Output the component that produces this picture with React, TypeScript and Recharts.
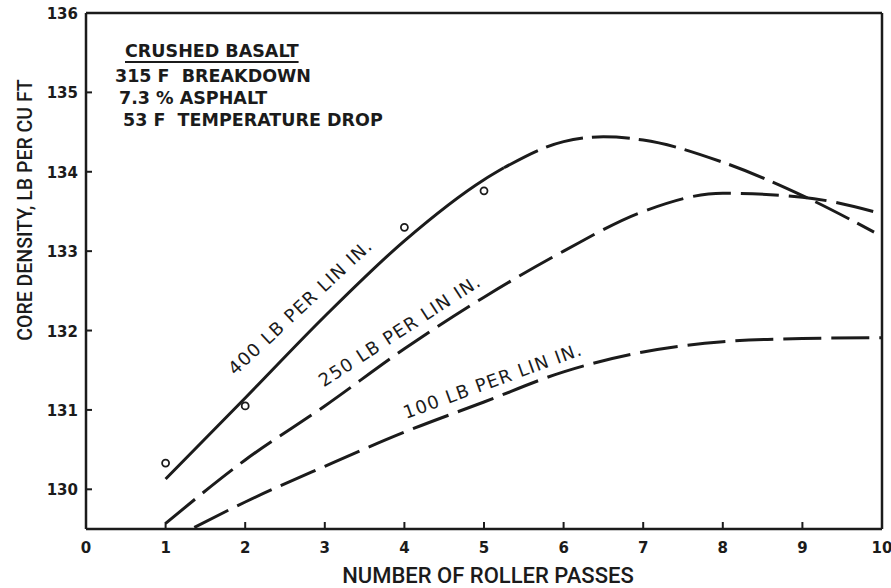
import React from "react";
import { ComposedChart, Line, Scatter, XAxis, YAxis, ReferenceDot, ReferenceLine } from "recharts";

// axis ticks
const xTicks = [0, 1, 2, 3, 4, 5, 6, 7, 8, 9, 10];
const yTicks = [130, 131, 132, 133, 134, 135, 136];

// 400 lb per lin in. (solid part, then dashed extrapolation)
const passes400Solid = [1, 2, 3, 4, 5, 5.25];
const density400Solid = [130.13, 131.15, 132.18, 133.13, 133.9, 134.05];
const passes400Dashed = [5.25, 6, 6.5, 7, 8, 9, 9.9];
const density400Dashed = [134.05, 134.38, 134.44, 134.4, 134.12, 133.7, 133.24];

// 250 lb per lin in.
const passes250 = [1, 2, 3, 4, 5, 6, 7, 8, 9, 10];
const density250 = [129.57, 130.37, 131.05, 131.77, 132.42, 133.0, 133.5, 133.73, 133.68, 133.47];

// 100 lb per lin in.
const passes100 = [1.36, 2, 3, 4, 5, 6, 7, 8, 9, 10];
const density100 = [129.52, 129.84, 130.29, 130.72, 131.1, 131.48, 131.73, 131.86, 131.9, 131.91];

// measured cores
const passesObs = [1, 2, 4, 5];
const densityObs = [130.33, 131.05, 133.3, 133.76];

// curve labels: text, anchor position, angle
const curveLabels = ["400 LB PER LIN IN.", "250 LB PER LIN IN.", "100 LB PER LIN IN."];
const curveLabelX = [2.69, 3.94, 5.11];
const curveLabelY = [132.3, 132.0, 131.37];
const curveLabelAngle = [-43, -33, -20];

const infoTitle = "CRUSHED BASALT";
const infoLines = ["315 F  BREAKDOWN", "7.3 % ASPHALT", "53 F  TEMPERATURE DROP"];

const pts = (xs: number[], ys: number[]) => xs.map((x, i) => ({ x, y: ys[i] }));

const INK = "#1b1b1b";
const tickFont = "'DejaVu Sans', sans-serif";
const titleFont = "Roboto, 'Liberation Sans', sans-serif";

const XTick = (props: any) => {
  const { x, y, payload } = props;
  const v = payload.value;
  return (
    <g>
      {v !== 0 && v !== 10 && <line x1={x} y1={y} x2={x} y2={y - 7} stroke={INK} strokeWidth={2} />}
      <text x={x} y={y + 24} textAnchor="middle" fontFamily={tickFont} fontWeight="bold" fontSize={15} fill={INK}>
        {v}
      </text>
    </g>
  );
};

const YTick = (props: any) => {
  const { x, y, payload } = props;
  const v = payload.value;
  return (
    <g>
      {v !== 136 && <line x1={x} y1={y} x2={x + 6} y2={y} stroke={INK} strokeWidth={2} />}
      <text x={x - 8} y={y + 6} textAnchor="end" fontFamily={tickFont} fontWeight="bold" fontSize={15} fill={INK}>
        {v}
      </text>
    </g>
  );
};

const rotatedLabel = (text: string, angle: number) => (props: any) => {
  const vb = props.viewBox || {};
  const cx = vb.x + (vb.width || 0) / 2;
  const cy = vb.y + (vb.height || 0) / 2;
  return (
    <text
      x={cx}
      y={cy}
      dy="0.36em"
      textAnchor="middle"
      transform={`rotate(${angle} ${cx} ${cy})`}
      fontFamily={tickFont}
      fontSize={18}
      letterSpacing={1.2}
      fill={INK}
    >
      {text}
    </text>
  );
};

const Circle = (props: any) => (
  <circle cx={props.cx} cy={props.cy} r={3.5} fill="#fff" stroke={INK} strokeWidth={1.8} />
);

export default function App() {
  return (
    <div style={{ position: "absolute", left: 0, top: 0, width: 891, height: 588, background: "#fff" }}>
      <ComposedChart width={891} height={588} margin={{ top: 13, right: 9, bottom: 0, left: 0 }}>
        <XAxis
          dataKey="x"
          type="number"
          domain={[0, 10]}
          ticks={xTicks}
          interval={0}
          height={59}
          tickSize={0}
          tickMargin={0}
          tickLine={false}
          axisLine={{ stroke: INK, strokeWidth: 2.5 }}
          tick={(p: any) => <XTick {...p} />}
          label={{
            content: (p: any) => {
              const vb = p.viewBox;
              return (
                <text x={vb.x + vb.width / 2 + 4} y={vb.y + 54} textAnchor="middle" fontFamily={titleFont} fontWeight={500} fontSize={22} fill={INK}>
                  NUMBER OF ROLLER PASSES
                </text>
              );
            },
          }}
        />
        <YAxis
          dataKey="y"
          type="number"
          domain={[129.5, 136]}
          ticks={yTicks}
          interval={0}
          width={86}
          tickSize={0}
          tickMargin={0}
          tickLine={false}
          axisLine={{ stroke: INK, strokeWidth: 2.5 }}
          tick={(p: any) => <YTick {...p} />}
          label={{
            content: (p: any) => {
              const vb = p.viewBox;
              const cx = 32;
              const cy = vb.y + 197;
              return (
                <text x={cx} y={cy} textAnchor="middle" transform={`rotate(-90 ${cx} ${cy})`} fontFamily={titleFont} fontWeight={500} fontSize={19.5} fill={INK}>
                  CORE DENSITY, LB PER CU FT
                </text>
              );
            },
          }}
        />
        <ReferenceLine y={136} stroke={INK} strokeWidth={2.5} />
        <ReferenceLine x={10} stroke={INK} strokeWidth={2.5} />

        <Line data={pts(passes400Solid, density400Solid)} dataKey="y" type="monotone" stroke={INK} strokeWidth={3} dot={false} isAnimationActive={false} />
        <Line data={pts(passes400Dashed, density400Dashed)} dataKey="y" type="monotone" stroke={INK} strokeWidth={3} strokeDasharray="38 9" dot={false} isAnimationActive={false} />
        <Line data={pts(passes250, density250)} dataKey="y" type="monotone" stroke={INK} strokeWidth={3} strokeDasharray="38 10" dot={false} isAnimationActive={false} />
        <Line data={pts(passes100, density100)} dataKey="y" type="monotone" stroke={INK} strokeWidth={3} strokeDasharray="38 10" dot={false} isAnimationActive={false} />
        <Scatter data={pts(passesObs, densityObs)} dataKey="y" shape={<Circle />} isAnimationActive={false} />

        {curveLabels.map((t, i) => (
          <ReferenceDot
            key={t}
            x={curveLabelX[i]}
            y={curveLabelY[i]}
            r={0}
            stroke="none"
            fill="none"
            label={{ content: rotatedLabel(t, curveLabelAngle[i]) }}
          />
        ))}
      </ComposedChart>

      <div
        style={{
          position: "absolute",
          left: 115,
          top: 40,
          fontFamily: tickFont,
          fontWeight: "bold",
          fontSize: 17.5,
          color: INK,
          lineHeight: "22px",
          whiteSpace: "pre",
        }}
      >
        <div style={{ marginLeft: 10, textDecoration: "underline", textUnderlineOffset: 4, textDecorationThickness: 2 }}>{infoTitle}</div>
        <div style={{ marginTop: 3 }}>{infoLines[0]}</div>
        <div style={{ marginLeft: 4 }}>{infoLines[1]}</div>
        <div style={{ marginLeft: 8 }}>{infoLines[2]}</div>
      </div>
    </div>
  );
}
